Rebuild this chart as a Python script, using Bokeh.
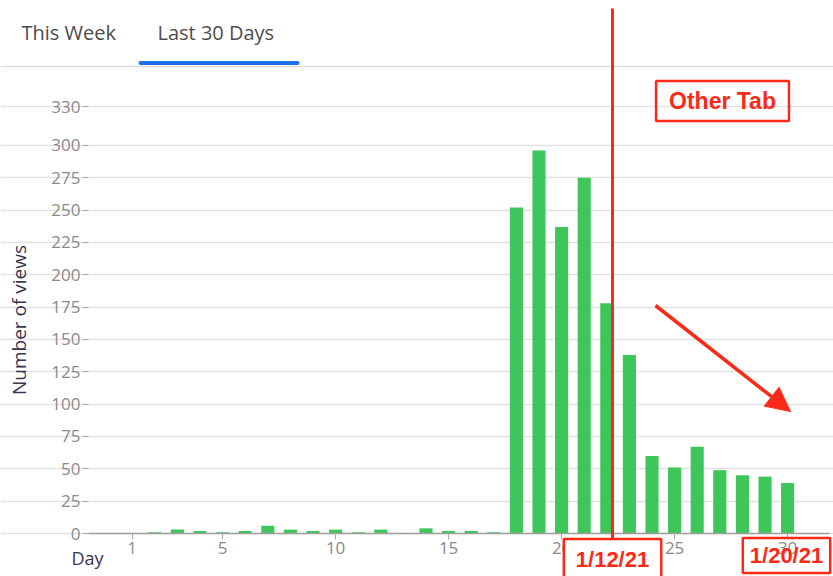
from bokeh.plotting import figure
from bokeh.models import (FixedTicker, Label, Arrow, NormalHead, Range1d)
from bokeh.embed import file_html
from bokeh.resources import INLINE

# ---- data ----
days = list(range(1, 31))
views = [0, 1, 3, 2, 1, 2, 6, 3, 2, 3, 1, 3, 0, 4, 2, 2, 1,
         252, 296, 237, 275, 178, 138, 60, 51, 67, 49, 45, 44, 39]
x_ticks = [1, 5, 10, 15, 20, 25, 30]
y_ticks = [0, 25, 50, 75, 100, 125, 150, 175, 200, 225, 250, 275, 300, 330]
tab_labels = ["This Week", "Last 30 Days"]
note_other = "Other Tab"
note_start = "1/12/21"
note_end = "1/20/21"

RED = "#fb2a18"
GREEN = "#3ec65a"
UI = "Open Sans"

W, H = 833, 576

# page pixel -> data helpers (frame covers the whole canvas)
def dx(px):
    return 1 + (px - 131.7) / 22.6

def dy(py):
    return (533 - py) / 1.2935

p = figure(width=W, height=H, output_backend="svg", toolbar_location=None,
           x_range=Range1d(dx(0), dx(W)), y_range=Range1d(dy(H), dy(0)),
           min_border=0, outline_line_color=None)

p.vbar(x=days, top=views, width=0.58, fill_color=GREEN, line_color=None)

plot_left, plot_right = dx(88), dx(829)

# axes drawn at fixed locations inside the canvas
p.xaxis.fixed_location = 0
p.yaxis.fixed_location = plot_left
p.xaxis.bounds = (plot_left, plot_right)
p.yaxis.bounds = (0, 330)
p.xaxis.ticker = FixedTicker(ticks=x_ticks)
p.yaxis.ticker = FixedTicker(ticks=y_ticks)
for ax in (p.xaxis[0], p.yaxis[0]):
    ax.major_label_text_font = UI
    ax.major_label_text_font_size = "17px"
    ax.major_label_text_color = "#8a8a8a"
    ax.major_tick_line_color = "#aaaaaa"
    ax.major_tick_out = 6
    ax.major_tick_in = 0
    ax.minor_tick_line_color = None
p.xaxis.axis_line_color = "#a0a0a0"
p.xaxis.axis_line_width = 1.5
p.xaxis.major_label_standoff = 2
p.yaxis.axis_line_color = None
p.yaxis.major_label_standoff = 2
p.yaxis.axis_label = "Number of views"
p.yaxis.axis_label_text_font = UI
p.yaxis.axis_label_text_font_size = "19px"
p.yaxis.axis_label_text_font_style = "normal"
p.yaxis.axis_label_text_color = "#3a3450"
p.yaxis.axis_label_standoff = 16
p.xgrid.grid_line_color = None
p.ygrid.grid_line_color = "#e2e2e2"
p.ygrid.grid_line_width = 1.5
p.ygrid.bounds = (plot_left, plot_right)

# x axis label "Day"
p.add_layout(Label(x=dx(71), y=dy(557), text="Day", text_font=UI,
                   text_font_size="18px", text_color="#3a3450",
                   text_align="left", text_baseline="middle"))

# tabs
p.add_layout(Label(x=dx(21), y=dy(32), text=tab_labels[0], text_font=UI,
                   text_font_size="20px", text_color="#4d4d4d",
                   text_align="left", text_baseline="middle"))
p.add_layout(Label(x=dx(157), y=dy(32), text=tab_labels[1], text_font=UI,
                   text_font_size="20px", text_color="#4d4d4d",
                   text_align="left", text_baseline="middle"))
p.add_layout(Arrow(end=None, x_start=dx(0), y_start=dy(66), x_end=dx(840),
                   y_end=dy(66), line_color="#dcdcdc", line_width=1.5))
p.add_layout(Arrow(end=None, x_start=dx(140), y_start=dy(62.5), x_end=dx(297),
                   y_end=dy(62.5), line_color="#1f6fe6", line_width=4,
                   line_cap="round"))

# red annotations
p.add_layout(Arrow(end=None, x_start=dx(612), y_start=dy(8), x_end=dx(612),
                   y_end=dy(580), line_color=RED, line_width=3))
p.add_layout(Arrow(end=NormalHead(size=24, fill_color=RED, line_color=RED),
                   x_start=dx(655), y_start=dy(305), x_end=dx(790), y_end=dy(411),
                   line_color=RED, line_width=3.5))
p.add_layout(Label(x=dx(722), y=dy(100.5), text=note_other,
                   text_font="Liberation Sans", text_font_style="bold",
                   text_font_size="23px", text_color=RED,
                   text_align="center", text_baseline="middle",
                   border_line_color=RED, border_line_width=2.5,
                   padding=(13, 7)))
p.add_layout(Label(x=dx(612), y=dy(559), text=note_start,
                   text_font="Liberation Sans", text_font_style="bold",
                   text_font_size="22px", text_color=RED,
                   text_align="center", text_baseline="middle",
                   background_fill_color="white",
                   border_line_color=RED, border_line_width=2.5,
                   padding=(12, 8)))
p.add_layout(Label(x=dx(786), y=dy(555), text=note_end,
                   text_font="Liberation Sans", text_font_style="bold",
                   text_font_size="22px", text_color=RED,
                   text_align="center", text_baseline="middle",
                   border_line_color=RED, border_line_width=2.5,
                   padding=(7, 5)))

open("out.html", "w").write(file_html(p, INLINE))
